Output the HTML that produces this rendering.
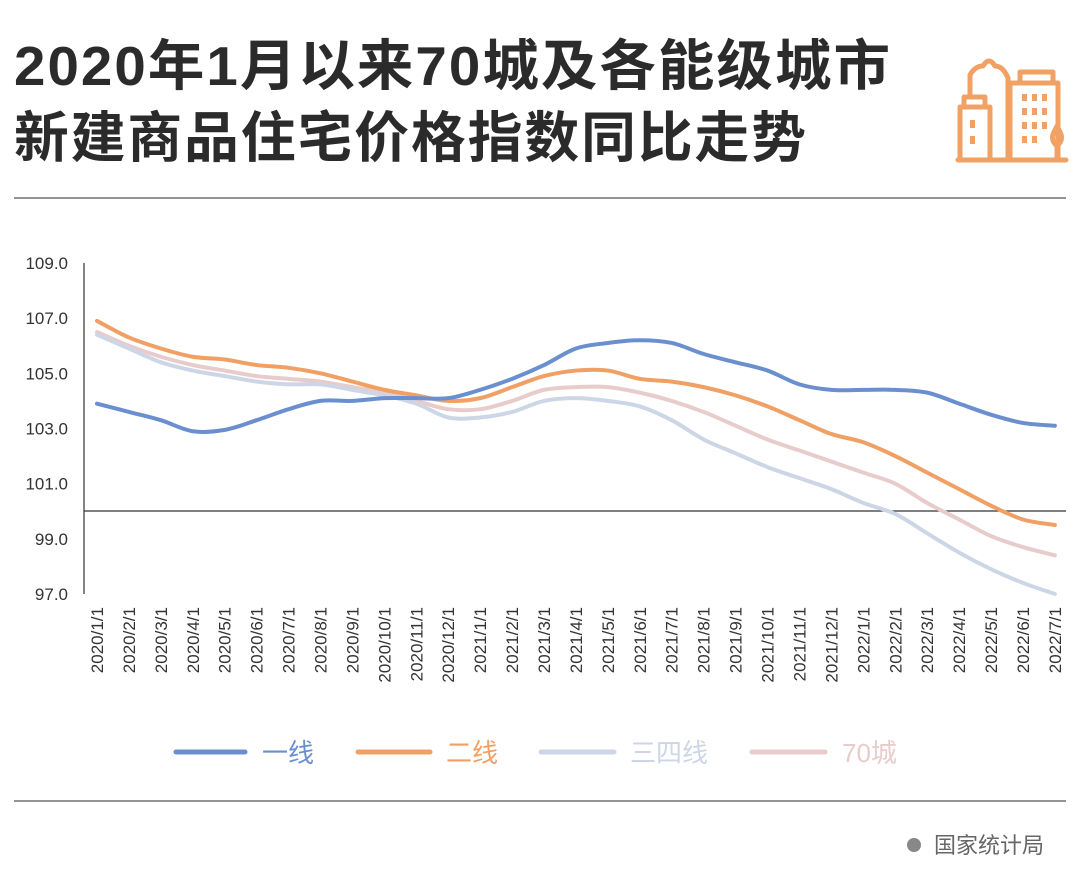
<!DOCTYPE html>
<html><head><meta charset="utf-8"><style>
body{margin:0;background:#fff;width:1080px;height:889px;overflow:hidden;font-family:"Liberation Sans","Noto Sans CJK SC",sans-serif}
</style></head><body>
<svg id="s" width="1080" height="889" xmlns="http://www.w3.org/2000/svg" font-family="Liberation Sans, Noto Sans CJK SC, sans-serif">
<text x="14" y="85" font-size="55" font-weight="bold" fill="#2b2b2b" letter-spacing="2" textLength="878" lengthAdjust="spacingAndGlyphs">2020年1月以来70城及各能级城市</text>
<text x="14" y="157" font-size="55" font-weight="bold" fill="#2b2b2b" letter-spacing="2" textLength="794" lengthAdjust="spacingAndGlyphs">新建商品住宅价格指数同比走势</text>
<g fill="none" stroke="#f2a165" stroke-width="5" stroke-linecap="round" stroke-linejoin="round">
<path d="M958 160H1066"/>
<path d="M960 160V107H990V160"/>
<path d="M964 107V97H985V107"/>
<path d="M970 97V75Q975 66 983 66Q989 56 995 66Q1003 66 1008 78V160"/>
<path d="M1010 160V83H1058V160"/>
<path d="M1020 83V72H1053V83"/>
<path d="M1057 160V146"/><path d="M1057 146Q1050 140 1054 132L1057 126L1060 132Q1064 140 1057 146"/>
</g>
<g fill="#f2a165">
<rect x="970" y="120" width="5" height="8"/><rect x="970" y="136" width="5" height="8"/>
<rect x="1022" y="94" width="5" height="7"/><rect x="1032" y="94" width="5" height="7"/><rect x="1042" y="94" width="5" height="7"/>
<rect x="1022" y="108" width="5" height="7"/><rect x="1032" y="108" width="5" height="7"/><rect x="1042" y="108" width="5" height="7"/>
<rect x="1022" y="122" width="5" height="7"/><rect x="1032" y="122" width="5" height="7"/><rect x="1042" y="122" width="5" height="7"/>
<rect x="1022" y="136" width="5" height="7"/><rect x="1032" y="136" width="5" height="7"/>
</g>
<line x1="14" y1="198" x2="1066" y2="198" stroke="#555" stroke-width="1.2"/>
<line x1="14" y1="801" x2="1066" y2="801" stroke="#555" stroke-width="1.2"/>
<line x1="84" y1="263" x2="84" y2="594" stroke="#333" stroke-width="1.2"/>
<line x1="84" y1="511" x2="1066" y2="511" stroke="#333" stroke-width="1.2"/>
<g id="ax" font-size="17" fill="#333"></g>
<g id="lines" fill="none" stroke-width="4" stroke-linecap="round"></g>
<g font-size="26">
<line x1="176" y1="752" x2="245" y2="752" stroke="#6a8fce" stroke-width="5" stroke-linecap="round"/><text x="262" y="762" fill="#6a8fce">一线</text>
<line x1="358" y1="752" x2="430" y2="752" stroke="#f0a064" stroke-width="5" stroke-linecap="round"/><text x="446" y="762" fill="#f0a064">二线</text>
<line x1="541" y1="752" x2="614" y2="752" stroke="#cdd6e6" stroke-width="5" stroke-linecap="round"/><text x="630" y="762" fill="#cdd6e6">三四线</text>
<line x1="752" y1="752" x2="825" y2="752" stroke="#e8cccc" stroke-width="5" stroke-linecap="round"/><text x="842" y="762" fill="#e8cccc">70城</text>
</g>
<circle cx="914" cy="845" r="7" fill="#888"/>
<text x="934" y="853" font-size="22" fill="#666">国家统计局</text>
</svg>
<script>
var NS="http://www.w3.org/2000/svg";
function X(i){return 97+i*31.93}
function Y(v){return 263+(109-v)*27.58}
var ax=document.getElementById("ax");
[109,107,105,103,101,99,97].forEach(function(v){var t=document.createElementNS(NS,"text");t.setAttribute("x",68);t.setAttribute("y",Y(v)+6);t.setAttribute("text-anchor","end");t.textContent=v.toFixed(1);ax.appendChild(t);});
for(var i=0;i<31;i++){var y=2020+Math.floor(i/12),m=i%12+1;var t=document.createElementNS(NS,"text");t.setAttribute("transform","translate("+(X(i)+6)+",607) rotate(-90)");t.setAttribute("text-anchor","end");t.textContent=y+"/"+m+"/1";ax.appendChild(t);}
var S=[
["#e8cccc",[106.5,106.0,105.6,105.3,105.1,104.9,104.8,104.7,104.5,104.3,104.0,103.7,103.7,104.0,104.4,104.5,104.5,104.3,104.0,103.6,103.1,102.6,102.2,101.8,101.4,101.0,100.3,99.7,99.1,98.7,98.4]],
["#cdd6e6",[106.4,105.9,105.4,105.1,104.9,104.7,104.6,104.6,104.4,104.2,103.9,103.4,103.4,103.6,104.0,104.1,104.0,103.8,103.3,102.6,102.1,101.6,101.2,100.8,100.3,99.9,99.2,98.5,97.9,97.4,97.0]],
["#f0a064",[106.9,106.3,105.9,105.6,105.5,105.3,105.2,105.0,104.7,104.4,104.2,104.0,104.1,104.5,104.9,105.1,105.1,104.8,104.7,104.5,104.2,103.8,103.3,102.8,102.5,102.0,101.4,100.8,100.2,99.7,99.5]],
["#6a8fce",[103.9,103.6,103.3,102.9,102.95,103.3,103.7,104.0,104.0,104.1,104.1,104.1,104.4,104.8,105.3,105.9,106.1,106.2,106.1,105.7,105.4,105.1,104.6,104.4,104.4,104.4,104.3,103.9,103.5,103.2,103.1]]];
var g=document.getElementById("lines");
S.forEach(function(s){var p=s[1].map(function(v,i){return[X(i),Y(v)]});var d="M"+p[0][0]+" "+p[0][1];
for(var i=0;i<p.length-1;i++){var a=p[Math.max(i-1,0)],b=p[i],c=p[i+1],e=p[Math.min(i+2,p.length-1)];
d+="C"+(b[0]+(c[0]-a[0])/6)+" "+(b[1]+(c[1]-a[1])/6)+" "+(c[0]-(e[0]-b[0])/6)+" "+(c[1]-(e[1]-b[1])/6)+" "+c[0]+" "+c[1];}
var q=document.createElementNS(NS,"path");q.setAttribute("d",d);q.setAttribute("stroke",s[0]);g.appendChild(q);});
</script>
</body></html>
